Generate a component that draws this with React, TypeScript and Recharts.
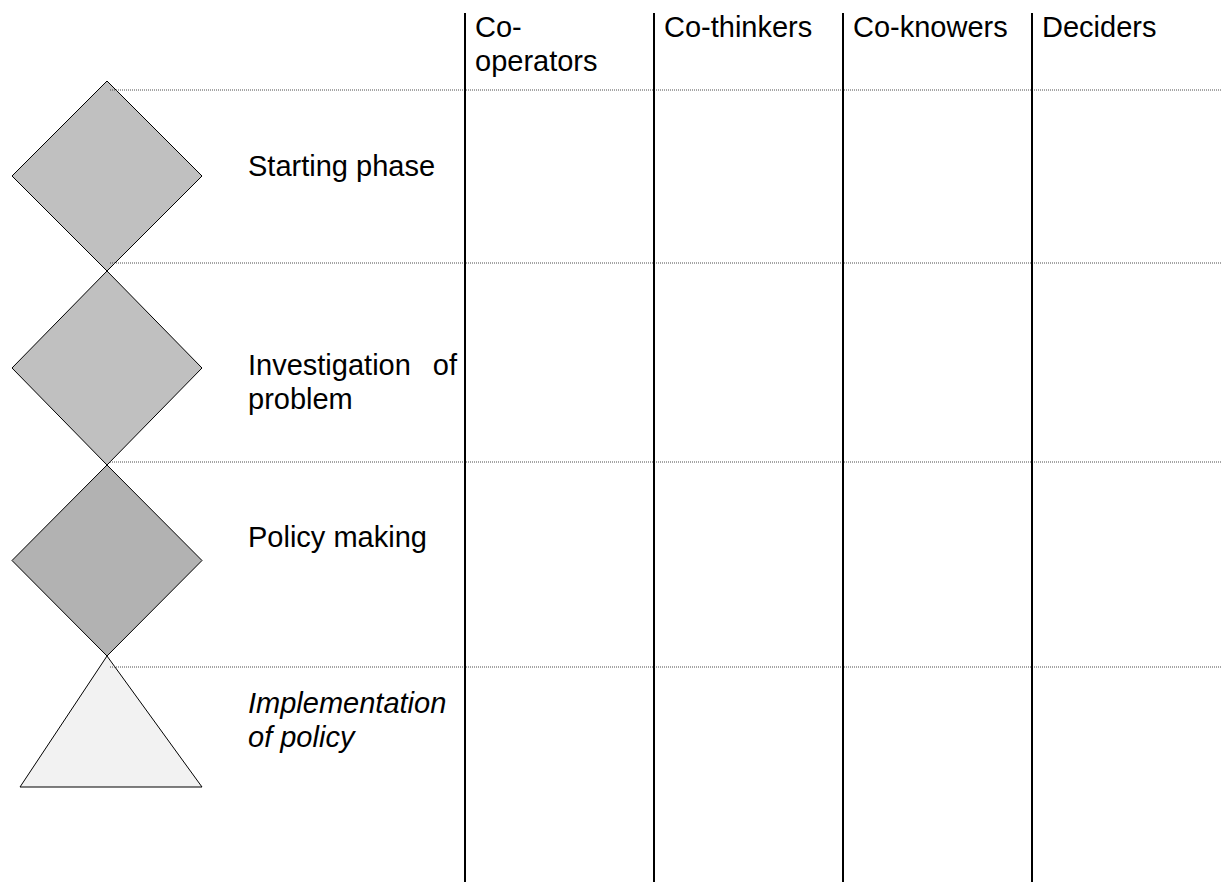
import React from 'react'
import {
  ComposedChart,
  Area,
  Scatter,
  XAxis,
  YAxis,
  ReferenceLine,
} from 'recharts'

// roles along the top, one column each
const roles = ['Co-operators', 'Co-thinkers', 'Co-knowers', 'Deciders']
const roleHeaderLines = [['Co-', 'operators'], ['Co-thinkers'], ['Co-knowers'], ['Deciders']]
const roleDividers = [465, 654, 843, 1032]

// phases down the left side (diagram units)
const phases = ['Starting phase', 'Investigation of problem', 'Policy making', 'Implementation of policy']
const phaseLines = [['Starting phase'], ['Investigation of', 'problem'], ['Policy making'], ['Implementation', 'of policy']]
const phaseShape = ['diamond', 'diamond', 'diamond', 'triangle']
const phaseTop = [81, 271, 465, 656]
const phaseBottom = [271, 465, 656, 787]
const phaseLabelY = [176, 375, 547, 713]
const rowRules = [90, 263, 462, 667]

const W = 1221
const H = 882
const FONT = '"Liberation Sans", Arial, sans-serif'
const FONT_SIZE = 29
const LINE_GAP = 34
const shapeX = { left: 12, triLeft: 20, mid: 107, right: 202 }
const labelX = 248
const labelRight = 457
const phaseFill = ['#c0c0c0', '#c0c0c0', '#b2b2b2', '#f2f2f2']
const phaseItalic = [false, false, false, true]

// one row per x position, each phase gets a [top, bottom] range
const xs = [shapeX.left, shapeX.triLeft, shapeX.mid, shapeX.right]
const shapeData = xs.map((x) => {
  const row: Record<string, any> = { x }
  phases.forEach((_, i) => {
    const top = phaseTop[i]
    const bottom = phaseBottom[i]
    const mid = (top + bottom) / 2
    if (phaseShape[i] === 'diamond') {
      if (x === shapeX.left || x === shapeX.right) row['p' + i] = [mid, mid]
      else if (x === shapeX.mid) row['p' + i] = [top, bottom]
      else row['p' + i] = null
    } else {
      if (x === shapeX.left) row['p' + i] = null
      else if (x === shapeX.mid) row['p' + i] = [top, bottom]
      else row['p' + i] = [bottom, bottom]
    }
  })
  return row
})

const phaseLabelData = phases.map((name, i) => ({
  x: labelX,
  y: phaseLabelY[i],
  name,
  lines: phaseLines[i],
  italic: phaseItalic[i],
}))

const headerData = roles.map((name, i) => ({
  x: roleDividers[i] + 10,
  y: 37,
  name,
  lines: roleHeaderLines[i],
  italic: false,
}))

const renderLabel = (justify: boolean) => (props: any) => {
  const { cx, cy, payload } = props
  return (
    <g>
      {payload.lines.map((line: string, k: number) => {
        const words = line.split(' ')
        const y = cy + k * LINE_GAP
        const common = {
          fontFamily: FONT,
          fontSize: FONT_SIZE,
          fontStyle: payload.italic ? 'italic' : 'normal',
          fill: '#000',
        }
        // justified lines: first word left, last word flush right
        if (justify && k < payload.lines.length - 1 && words.length > 1 && line.length > 15) {
          return (
            <g key={k}>
              <text x={cx} y={y} {...common}>{words.slice(0, -1).join(' ')}</text>
              <text x={labelRight} y={y} textAnchor="end" {...common}>{words[words.length - 1]}</text>
            </g>
          )
        }
        return (
          <text key={k} x={cx} y={y} {...common}>{line}</text>
        )
      })}
    </g>
  )
}

export default function App() {
  return (
    <div style={{ position: 'absolute', left: 0, top: 0, width: W, height: H, background: '#fff' }}>
      <ComposedChart width={W} height={H} data={shapeData} margin={{ top: 0, right: 0, bottom: 0, left: 0 }}>
        <XAxis type="number" dataKey="x" domain={[0, W]} allowDataOverflow hide />
        <YAxis type="number" domain={[0, H]} reversed allowDataOverflow hide />

        {rowRules.map((y) => (
          <ReferenceLine
            key={'r' + y}
            segment={[{ x: 110, y }, { x: W, y }]}
            stroke="#4d4d4d"
            strokeWidth={1}
            strokeDasharray="1 1"
          />
        ))}
        {roleDividers.map((x) => (
          <ReferenceLine
            key={'d' + x}
            segment={[{ x, y: 13 }, { x, y: H }]}
            stroke="#000"
            strokeWidth={2}
          />
        ))}

        {phases.map((name, i) => (
          <Area
            key={name}
            name={name}
            dataKey={'p' + i}
            type="linear"
            connectNulls
            stroke="#000"
            strokeWidth={1}
            fill={phaseFill[i]}
            fillOpacity={1}
            dot={false}
            activeDot={false}
            isAnimationActive={false}
          />
        ))}

        <Scatter
          data={phaseLabelData}
          dataKey="y"
          shape={renderLabel(true)}
          isAnimationActive={false}
        />
        <Scatter
          data={headerData}
          dataKey="y"
          shape={renderLabel(false)}
          isAnimationActive={false}
        />
      </ComposedChart>
    </div>
  )
}
